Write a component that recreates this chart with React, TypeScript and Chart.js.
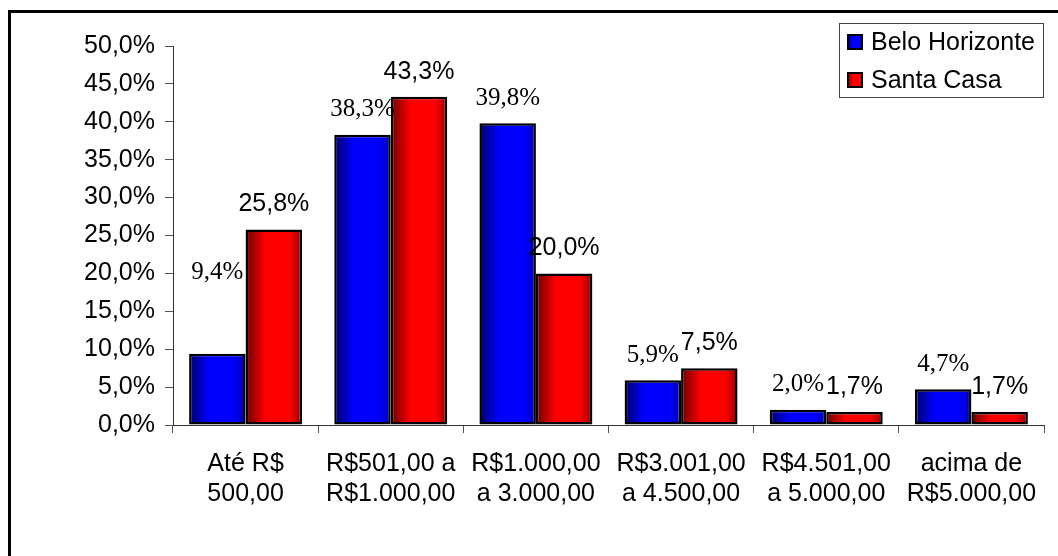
import React, { useEffect, useRef } from "react";
import { Chart, registerables } from "chart.js";

Chart.register(...registerables);

const categories: string[][] = [
  ["Até R$", "500,00"],
  ["R$501,00 a", "R$1.000,00"],
  ["R$1.000,00", "a 3.000,00"],
  ["R$3.001,00", "a 4.500,00"],
  ["R$4.501,00", "a 5.000,00"],
  ["acima de", "R$5.000,00"],
];
const seriesNames = ["Belo Horizonte", "Santa Casa"];
const beloHorizonte = [9.4, 38.3, 39.8, 5.9, 2.0, 4.7];
const santaCasa = [25.8, 43.3, 20.0, 7.5, 1.7, 1.7];
const yTicks = [0, 5, 10, 15, 20, 25, 30, 35, 40, 45, 50];

const SANS = "'Liberation Sans', Arial, sans-serif";
const SERIF = "'Liberation Serif', 'Times New Roman', serif";
const CAT_PCT = 0.778;

const palette = [
  { dark: "#000068", bright: "#0000ff", end: "#0000b0" },
  { dark: "#680000", bright: "#ff0000", end: "#940000" },
];

const fmt = (v: number) => v.toFixed(1).replace(".", ",") + "%";

function makeGrad(ctx: CanvasRenderingContext2D, x0: number, x1: number, p: { dark: string; bright: string; end: string }) {
  if (!isFinite(x0) || !isFinite(x1) || x1 <= x0) return p.bright;
  const g = ctx.createLinearGradient(x0, 0, x1, 0);
  g.addColorStop(0, p.dark);
  g.addColorStop(0.35, p.bright);
  g.addColorStop(0.78, p.bright);
  g.addColorStop(1, p.end);
  return g;
}

const labelPlugin = {
  id: "valueLabels",
  afterDatasetsDraw(chart: any) {
    const ctx = chart.ctx as CanvasRenderingContext2D;
    ctx.save();
    ctx.fillStyle = "#000";
    ctx.textAlign = "center";
    ctx.textBaseline = "middle";
    chart.data.datasets.forEach((ds: any, di: number) => {
      const meta = chart.getDatasetMeta(di);
      ctx.font = `25px ${di === 0 ? SERIF : SANS}`;
      meta.data.forEach((el: any, i: number) => {
        const extra = di === 0 && i === 0 ? 56 : 0;
        ctx.fillText(fmt(ds.data[i]), el.x, el.y - 25 - extra);
      });
    });
    ctx.restore();
  },
};

const legendPlugin = {
  id: "boxLegend",
  afterDraw(chart: any) {
    const ctx = chart.ctx as CanvasRenderingContext2D;
    ctx.save();
    ctx.fillStyle = "#fff";
    ctx.fillRect(839.5, 23.5, 204, 74);
    ctx.strokeStyle = "#444";
    ctx.lineWidth = 1;
    ctx.strokeRect(839.5, 23.5, 204, 74);
    const rows = [42, 80];
    seriesNames.forEach((name, i) => {
      const y = rows[i];
      ctx.fillStyle = makeGrad(ctx, 847, 864, palette[i]);
      ctx.fillRect(847, y - 8, 16, 16);
      ctx.strokeStyle = "#000";
      ctx.lineWidth = 2;
      ctx.strokeRect(848, y - 7, 14, 14);
      ctx.fillStyle = "#000";
      ctx.font = `25px ${SANS}`;
      ctx.textAlign = "left";
      ctx.textBaseline = "middle";
      ctx.fillText(name, 871, y + 1);
    });
    ctx.restore();
  },
};

export default function App() {
  const ref = useRef<HTMLCanvasElement | null>(null);

  useEffect(() => {
    if (!ref.current) return;
    const bg = (di: number) => (c: any) => {
      const chart = c.chart;
      const xs = chart.scales?.x;
      if (!xs || typeof c.dataIndex !== "number") return palette[di].bright;
      const center = xs.getPixelForValue(c.dataIndex);
      const group = (xs.width / categories.length) * CAT_PCT;
      const left = center - group / 2 + (di * group) / 2;
      return makeGrad(chart.ctx, left, left + group / 2, palette[di]);
    };
    const chart = new Chart(ref.current, {
      type: "bar",
      data: {
        labels: categories,
        datasets: [
          {
            label: seriesNames[0],
            data: beloHorizonte,
            backgroundColor: bg(0),
            borderColor: "#000",
            borderWidth: 2.5,
            borderSkipped: false,
          },
          {
            label: seriesNames[1],
            data: santaCasa,
            backgroundColor: bg(1),
            borderColor: "#000",
            borderWidth: 2.5,
            borderSkipped: false,
          },
        ],
      },
      options: {
        responsive: false,
        animation: false,
        events: [],
        layout: { padding: { left: 0, top: 46, right: 14, bottom: 0 } },
        datasets: { bar: { categoryPercentage: CAT_PCT, barPercentage: 1 } },
        plugins: { legend: { display: false }, tooltip: { enabled: false } },
        scales: {
          x: {
            grid: {
              offset: true,
              drawOnChartArea: false,
              drawTicks: true,
              tickLength: 8,
              color: "#555",
            },
            border: { display: true, color: "#333", width: 1 },
            ticks: {
              color: "#000",
              font: { family: SANS, size: 25 },
              padding: 16,
              maxRotation: 0,
              autoSkip: false,
            },
            afterFit: (s: any) => {
              s.height = 131;
            },
          },
          y: {
            min: 0,
            max: 50,
            afterBuildTicks: (s: any) => {
              s.ticks = yTicks.map((v) => ({ value: v }));
            },
            grid: {
              drawOnChartArea: false,
              drawTicks: true,
              tickLength: 8,
              color: "#555",
            },
            border: { display: true, color: "#333", width: 1 },
            ticks: {
              color: "#000",
              font: { family: SANS, size: 25 },
              padding: 10,
              callback: (v: any) => fmt(Number(v)),
            },
            afterFit: (s: any) => {
              s.width = 173;
            },
          },
        },
      },
      plugins: [labelPlugin, legendPlugin],
    });
    return () => chart.destroy();
  }, []);

  return (
    <div
      style={{
        position: "fixed",
        left: 0,
        top: 0,
        width: 1058,
        height: 556,
        overflow: "hidden",
        background: "#fff",
      }}
    >
      <div
        style={{
          position: "absolute",
          left: 8,
          top: 10,
          width: 1200,
          height: 700,
          border: "3px solid #000",
        }}
      />
      <canvas
        ref={ref}
        width={1058}
        height={556}
        style={{ position: "absolute", left: 0, top: 0, width: 1058, height: 556 }}
      />
    </div>
  );
}
